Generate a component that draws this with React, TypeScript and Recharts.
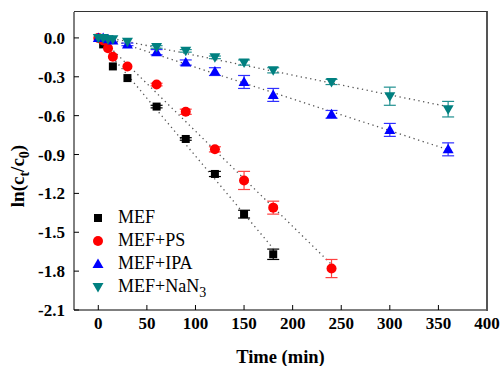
import {
  ComposedChart,
  Scatter,
  Line,
  XAxis,
  YAxis,
  ErrorBar
} from "recharts"

const serif = "Liberation Serif"

// reaction times (min)
const timesMEF = [0, 5, 15, 30, 60, 90, 120, 150, 180]
const timesPS = [0, 5, 10, 15, 30, 60, 90, 120, 150, 180, 240]
const timesLong = [0, 5, 10, 15, 30, 60, 90, 120, 150, 180, 240, 300, 360]

// ln(ct/c0)
const mefValues = [0, -0.05, -0.22, -0.31, -0.53, -0.78, -1.05, -1.36, -1.67]
const mefErr = [0, 0, 0, 0, 0.01, 0.01, 0.02, 0.03, 0.04]

const psValues = [0, -0.02, -0.08, -0.145, -0.22, -0.36, -0.57, -0.86, -1.1, -1.31, -1.78]
const psErr = [0, 0, 0, 0, 0, 0.01, 0.02, 0.02, 0.07, 0.05, 0.07]

const ipaValues = [0, 0, -0.01, -0.02, -0.05, -0.11, -0.19, -0.26, -0.34, -0.44, -0.59, -0.71, -0.86]
const ipaErr = [0, 0, 0, 0, 0.01, 0.02, 0.02, 0.03, 0.05, 0.05, 0.03, 0.05, 0.05]

const nan3Values = [0, 0, -0.01, -0.01, -0.03, -0.07, -0.1, -0.15, -0.19, -0.25, -0.34, -0.45, -0.55]
const nan3Err = [0, 0, 0, 0, 0, 0.01, 0.01, 0.01, 0.02, 0.02, 0.02, 0.07, 0.06]

const xTicks = [0, 50, 100, 150, 200, 250, 300, 350, 400]
const yTicks = [0, -0.3, -0.6, -0.9, -1.2, -1.5, -1.8, -2.1]

const toPoints = (t: number[], v: number[], e: number[]) =>
  t.map((x, i) => ({ t: x, y: v[i], err: e[i] }))

// least squares line over the measured points
const fit = (t: number[], v: number[]) => {
  const n = t.length
  const mx = t.reduce((a, b) => a + b, 0) / n
  const my = v.reduce((a, b) => a + b, 0) / n
  let sxy = 0
  let sxx = 0
  t.forEach((x, i) => {
    sxy += (x - mx) * (v[i] - my)
    sxx += (x - mx) * (x - mx)
  })
  const k = sxy / sxx
  const b = my - k * mx
  const t0 = t[1]
  const t1 = t[n - 1]
  return [
    { t: t0, y: k * t0 + b },
    { t: t1, y: k * t1 + b }
  ]
}

const series = [
  { name: "MEF", color: "#000000", err: "#000000", data: toPoints(timesMEF, mefValues, mefErr), fit: fit(timesMEF, mefValues) },
  { name: "MEF+PS", color: "#ff0000", err: "#ff4040", data: toPoints(timesPS, psValues, psErr), fit: fit(timesPS, psValues) },
  { name: "MEF+IPA", color: "#0000ff", err: "#3030ff", data: toPoints(timesLong, ipaValues, ipaErr), fit: fit(timesLong, ipaValues) },
  { name: "MEF+NaN3", color: "#008080", err: "#209090", data: toPoints(timesLong, nan3Values, nan3Err), fit: fit(timesLong, nan3Values) }
]

const Square = (p: any) => (
  <rect x={p.cx - 4} y={p.cy - 4} width={8} height={8} fill={p.fill} />
)
const Circle = (p: any) => <circle cx={p.cx} cy={p.cy} r={5} fill={p.fill} />
const TriUp = (p: any) => (
  <polygon
    points={`${p.cx},${p.cy - 5.5} ${p.cx - 5.5},${p.cy + 4} ${p.cx + 5.5},${p.cy + 4}`}
    fill={p.fill}
  />
)
const TriDown = (p: any) => (
  <polygon
    points={`${p.cx},${p.cy + 5.5} ${p.cx - 5.5},${p.cy - 4} ${p.cx + 5.5},${p.cy - 4}`}
    fill={p.fill}
  />
)
const shapes = [Square, Circle, TriUp, TriDown]

const YLabel = () => (
  <text
    transform="translate(24,176) rotate(-90)"
    textAnchor="middle"
    fontFamily={serif}
    fontWeight="bold"
    fontSize={19}
    fill="#000"
  >
    ln(c<tspan fontSize={14} dy={5}>t</tspan>
    <tspan dy={-5}>/c</tspan>
    <tspan fontSize={14} dy={5}>0</tspan>
    <tspan dy={-5}>)</tspan>
  </text>
)

const ChartLegend = () => (
  <div
    style={{
      position: "absolute",
      left: 91,
      top: 206,
      fontFamily: serif,
      fontSize: 18,
      lineHeight: "23px",
      color: "#000"
    }}
  >
    {series.map((s, i) => {
      const Shape = shapes[i]
      return (
        <div key={s.name} style={{ display: "flex", alignItems: "center" }}>
          <svg width={14} height={14} style={{ marginRight: 13 }}>
            <Shape cx={7} cy={7} fill={s.color} />
          </svg>
          {s.name === "MEF+NaN3" ? (
            <span>
              MEF+NaN<span style={{ fontSize: 14, position: "relative", top: 5 }}>3</span>
            </span>
          ) : (
            <span>{s.name}</span>
          )}
        </div>
      )
    })}
  </div>
)

const tickStyle = { fontFamily: serif, fontWeight: "bold", fontSize: 17, fill: "#000" }

export default function App() {
  return (
    <div style={{ position: "absolute", left: 0, top: 0, width: 501, height: 366, background: "#fff" }}>
      <ComposedChart
        width={501}
        height={366}
        margin={{ top: 12, right: 14, bottom: 0, left: 0 }}
      >
        <XAxis
          xAxisId="main"
          type="number"
          dataKey="t"
          domain={[-25, 400]}
          ticks={xTicks}
          allowDataOverflow
          height={56}
          tickSize={-5}
          tickMargin={12}
          stroke="#000"
          tick={tickStyle}
          label={{
            value: "Time (min)",
            position: "insideBottom",
            offset: 3,
            style: { fontFamily: serif, fontWeight: "bold", fontSize: 18.5, fill: "#000" }
          }}
        />
        <YAxis
          yAxisId="main"
          type="number"
          domain={[-2.1, 0.2]}
          ticks={yTicks}
          allowDataOverflow
          width={74}
          tickSize={-5}
          tickMargin={14}
          stroke="#000"
          tickFormatter={(v: number) => v.toFixed(1)}
          tick={tickStyle}
          label={<YLabel />}
        />
        {series.map((s) => (
          <Line
            key={s.name + "-fit"}
            xAxisId="main"
            yAxisId="main"
            data={s.fit}
            dataKey="y"
            type="linear"
            stroke="#555"
            strokeWidth={1.3}
            strokeDasharray="1.3 3.5"
            dot={false}
            activeDot={false}
            legendType="none"
            isAnimationActive={false}
          />
        ))}
        {series.map((s, i) => (
          <Scatter
            key={s.name}
            name={s.name}
            xAxisId="main"
            yAxisId="main"
            data={s.data}
            dataKey="y"
            fill={s.color}
            shape={shapes[i]}
            isAnimationActive={false}
          >
            <ErrorBar dataKey="err" direction="y" width={6} stroke={s.err} strokeWidth={1.2} />
          </Scatter>
        ))}
      </ComposedChart>
      <div
        style={{
          position: "absolute",
          left: 74,
          top: 11,
          width: 412,
          height: 299,
          borderTop: "1.5px solid #333",
          borderRight: "2.5px solid #555",
          pointerEvents: "none"
        }}
      />
      <ChartLegend />
    </div>
  )
}
